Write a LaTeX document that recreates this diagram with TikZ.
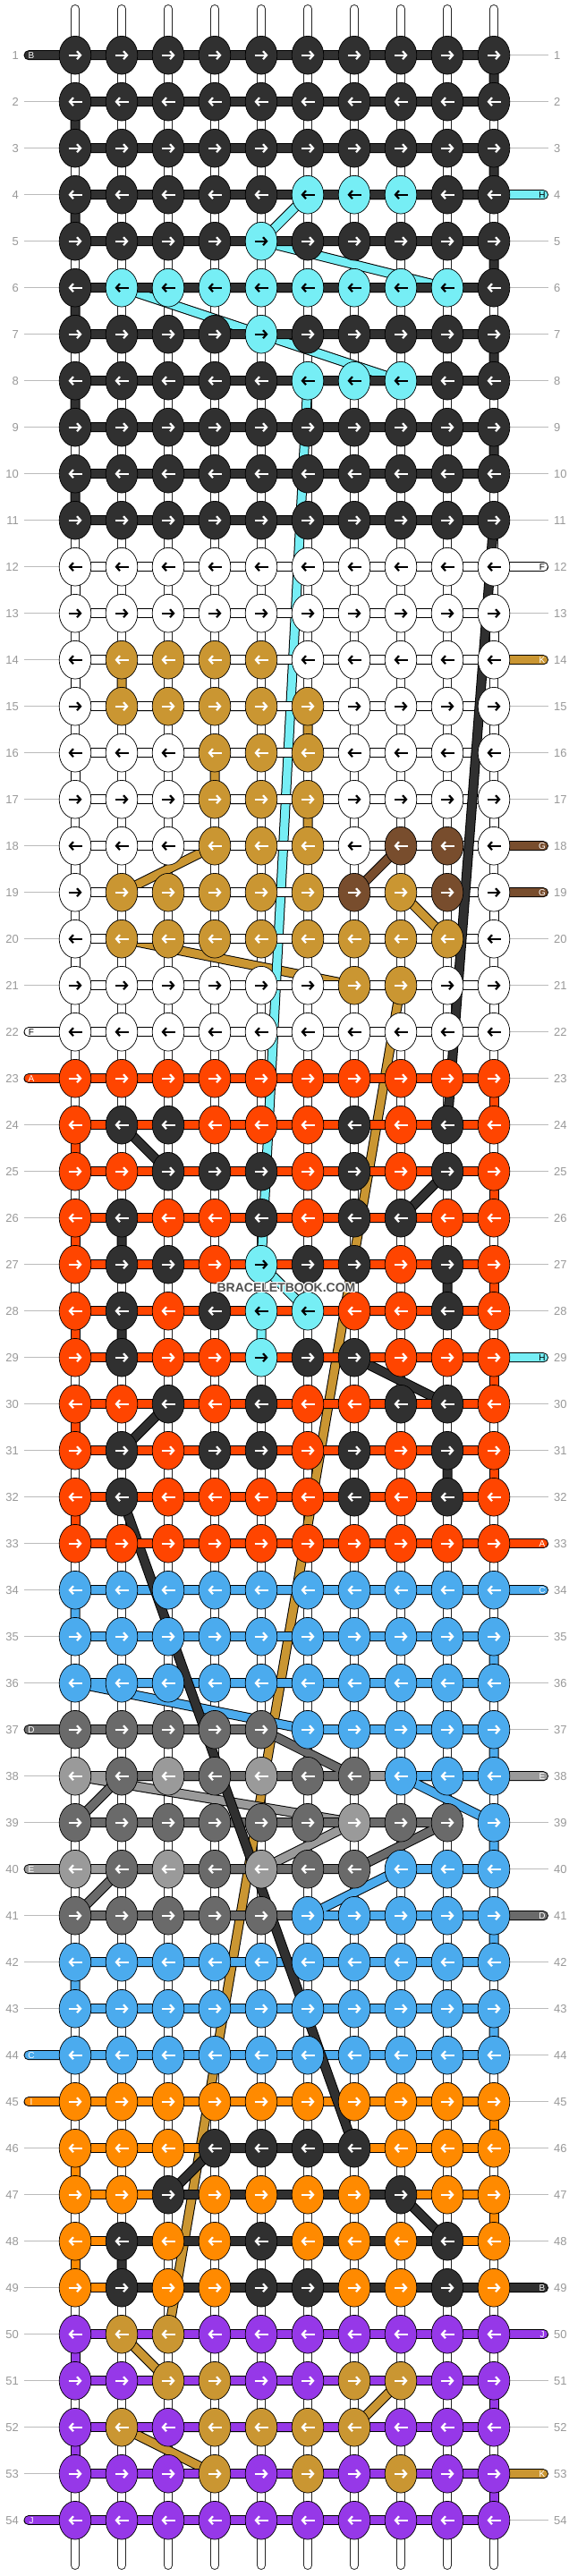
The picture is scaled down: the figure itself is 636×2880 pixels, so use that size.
\documentclass[tikz,border=0pt]{standalone}
\usepackage{fontspec}
\setmainfont{Liberation Sans}
\usetikzlibrary{arrows.meta,shapes.geometric}
\definecolor{cA}{HTML}{FF4500}
\definecolor{cB}{HTML}{303030}
\definecolor{cC}{HTML}{4BABEE}
\definecolor{cD}{HTML}{6A6A6A}
\definecolor{cE}{HTML}{9A9A9A}
\definecolor{cF}{HTML}{FFFFFF}
\definecolor{cG}{HTML}{784D2D}
\definecolor{cH}{HTML}{76EEF5}
\definecolor{cI}{HTML}{FF8A00}
\definecolor{cJ}{HTML}{9638E8}
\definecolor{cK}{HTML}{CA9632}
\definecolor{numgray}{HTML}{999999}
\definecolor{linegray}{HTML}{BBBBBB}
\definecolor{wmgray}{HTML}{505050}
\newcount\kcol
\newcommand\threadpath[2]{%
  \draw[line width=11pt,black,line cap=round,line join=round] #2;
  \draw[line width=9pt,#1,line cap=round,line join=round] #2;}
\newcommand\doknot[3]{%
  \node[knot,fill=c#3] (n#1-#2) at (k#1-#2) {};
  \if#3F\def\acol{black}\else\if#3H\def\acol{black}\else\def\acol{white}\fi\fi
  \ifodd#2\relax
    \draw[arr,draw=\acol] ([xshift=-7.5pt]n#1-#2.center) -- ([xshift=7.5pt]n#1-#2.center);
  \else
    \draw[arr,draw=\acol] ([xshift=7.5pt]n#1-#2.center) -- ([xshift=-7.5pt]n#1-#2.center);
  \fi}
\def\knotrow#1#2{\def\krow{#1}\kcol=0 \knotloop#2\relax}
\def\knotloop#1{\ifx#1\relax\else\advance\kcol by 1 \edef\kc{\the\kcol}\doknot{\kc}{\krow}{#1}\expandafter\knotloop\fi}
\begin{document}
\begin{tikzpicture}[x=1pt,y=1pt,
  knot/.style={ellipse,draw=black,line width=0.7pt,minimum width=35.6pt,minimum height=42.7pt,inner sep=0pt},
  arr/.style={line width=2.2pt,-{Straight Barb[length=4pt,width=9pt]}},
  rownum/.style={text=numgray,font=\fontsize{13}{13}\selectfont,inner sep=0pt},
  stubl/.style={font=\fontsize{10}{10}\selectfont,inner sep=0pt},
  wm/.style={font=\fontsize{14}{14}\selectfont\bfseries,inner sep=0pt}]
\useasboundingbox (0,0) rectangle (636,-2880);
\fill[white] (0,0) rectangle (636,-2880);
\foreach \r in {1,...,54}{
  \pgfmathsetmacro\yy{-61.7-52*(\r-1)}
  \coordinate (L-\r) at (32,\yy);
  \coordinate (R-\r) at (607.5,\yy);
  \foreach \c in {1,...,10}{\coordinate (k\c-\r) at ({84+52*(\c-1)},\yy);}
}
\foreach \c in {1,...,10}{
  \coordinate (top\c) at ({84+52*(\c-1)},-10);
  \coordinate (bot\c) at ({84+52*(\c-1)},-2868);
}
% row label lines
\foreach \r in {1,...,54}{
  \draw[linegray,line width=1pt] ([xshift=-5pt]L-\r) -- (k1-\r);
  \draw[linegray,line width=1pt] (k10-\r) -- ([xshift=5.5pt]R-\r);
}
% base strings
\foreach \c in {1,...,10}{
  \draw[line width=10pt,black!85,line cap=round] (top\c) -- (bot\c);
  \draw[line width=8pt,white,line cap=round] (top\c) -- (bot\c);
}
% threads, bottom to top
\threadpath{cK}{(R-14) -- (k2-14) -- (k2-15) -- (k6-15) -- (k6-16) -- (k4-16) -- (k4-17) -- (k6-17) -- (k6-18) -- (k4-18) -- (k2-19) -- (k8-19) -- (k9-20) -- (k2-20) -- (k7-21) -- (k8-21) -- (k3-50) -- (k2-50) -- (k3-51) -- (k8-51) -- (k7-52) -- (k2-52) -- (k4-53) -- (R-53)}
\threadpath{cJ}{(R-50) -- (k1-50) -- (k1-51) -- (k10-51) -- (k10-52) -- (k1-52) -- (k1-53) -- (k10-53) -- (k10-54) -- (L-54)}
\threadpath{cI}{(L-45) -- (k10-45) -- (k10-46) -- (k1-46) -- (k1-47) -- (k10-47) -- (k10-48) -- (k1-48) -- (k1-49) -- (k10-49)}
\threadpath{cH}{(R-4) -- (k6-4) -- (k5-5) -- (k9-6) -- (k2-6) -- (k5-7) -- (k8-8) -- (k6-8) -- (k5-27) -- (k6-28) -- (k5-28) -- (k5-29) -- (R-29)}
\threadpath{cG}{(R-18) -- (k8-18) -- (k7-19) -- (R-19)}
\threadpath{cF}{(R-12) -- (k1-12) -- (k1-13) -- (k10-13) -- (k10-14) -- (k1-14) -- (k1-15) -- (k10-15) -- (k10-16) -- (k1-16) -- (k1-17) -- (k10-17) -- (k10-18) -- (k1-18) -- (k1-19) -- (k10-19) -- (k10-20) -- (k1-20) -- (k1-21) -- (k10-21) -- (k10-22) -- (L-22)}
\threadpath{cE}{(R-38) -- (k1-38) -- (k7-39) -- (k5-40) -- (L-40)}
\threadpath{cD}{(L-37) -- (k5-37) -- (k7-38) -- (k2-38) -- (k1-39) -- (k9-39) -- (k7-40) -- (k2-40) -- (k1-41) -- (R-41)}
\threadpath{cC}{(R-34) -- (k1-34) -- (k1-35) -- (k10-35) -- (k10-36) -- (k1-36) -- (k6-37) -- (k10-37) -- (k10-38) -- (k8-38) -- (k10-39) -- (k10-40) -- (k8-40) -- (k6-41) -- (k10-41) -- (k10-42) -- (k1-42) -- (k1-43) -- (k10-43) -- (k10-44) -- (L-44)}
\threadpath{cB}{(L-1) -- (k10-1) -- (k10-2) -- (k1-2) -- (k1-3) -- (k10-3) -- (k10-4) -- (k1-4) -- (k1-5) -- (k10-5) -- (k10-6) -- (k1-6) -- (k1-7) -- (k10-7) -- (k10-8) -- (k1-8) -- (k1-9) -- (k10-9) -- (k10-10) -- (k1-10) -- (k1-11) -- (k10-11) -- (k9-24) -- (k2-24) -- (k3-25) -- (k9-25) -- (k8-26) -- (k2-26) -- (k2-27) -- (k9-27) -- (k9-28) -- (k2-28) -- (k2-29) -- (k7-29) -- (k9-30) -- (k3-30) -- (k2-31) -- (k9-31) -- (k9-32) -- (k2-32) -- (k7-46) -- (k4-46) -- (k3-47) -- (k8-47) -- (k9-48) -- (k2-48) -- (k2-49) -- (R-49)}
\threadpath{cA}{(L-23) -- (k10-23) -- (k10-24) -- (k1-24) -- (k1-25) -- (k10-25) -- (k10-26) -- (k1-26) -- (k1-27) -- (k10-27) -- (k10-28) -- (k1-28) -- (k1-29) -- (k10-29) -- (k10-30) -- (k1-30) -- (k1-31) -- (k10-31) -- (k10-32) -- (k1-32) -- (k1-33) -- (R-33)}
% knots
\knotrow{1}{BBBBBBBBBB}
\knotrow{2}{BBBBBBBBBB}
\knotrow{3}{BBBBBBBBBB}
\knotrow{4}{BBBBBHHHBB}
\knotrow{5}{BBBBHBBBBB}
\knotrow{6}{BHHHHHHHHB}
\knotrow{7}{BBBBHBBBBB}
\knotrow{8}{BBBBBHHHBB}
\knotrow{9}{BBBBBBBBBB}
\knotrow{10}{BBBBBBBBBB}
\knotrow{11}{BBBBBBBBBB}
\knotrow{12}{FFFFFFFFFF}
\knotrow{13}{FFFFFFFFFF}
\knotrow{14}{FKKKKFFFFF}
\knotrow{15}{FKKKKKFFFF}
\knotrow{16}{FFFKKKFFFF}
\knotrow{17}{FFFKKKFFFF}
\knotrow{18}{FFFKKKFGGF}
\knotrow{19}{FKKKKKGKGF}
\knotrow{20}{FKKKKKKKKF}
\knotrow{21}{FFFFFFKKFF}
\knotrow{22}{FFFFFFFFFF}
\knotrow{23}{AAAAAAAAAA}
\knotrow{24}{ABBAAABABA}
\knotrow{25}{AABBBABABA}
\knotrow{26}{ABAABABBAA}
\knotrow{27}{ABBAHBBABA}
\knotrow{28}{ABABHHAABA}
\knotrow{29}{ABAAHBBAAA}
\knotrow{30}{AABABAABBA}
\knotrow{31}{ABABBABABA}
\knotrow{32}{ABAAAABABA}
\knotrow{33}{AAAAAAAAAA}
\knotrow{34}{CCCCCCCCCC}
\knotrow{35}{CCCCCCCCCC}
\knotrow{36}{CCCCCCCCCC}
\knotrow{37}{DDDDDCCCCC}
\knotrow{38}{EDEDEDDCCC}
\knotrow{39}{DDDDDDEDDC}
\knotrow{40}{EDEDEDDCCC}
\knotrow{41}{DDDDDCCCCC}
\knotrow{42}{CCCCCCCCCC}
\knotrow{43}{CCCCCCCCCC}
\knotrow{44}{CCCCCCCCCC}
\knotrow{45}{IIIIIIIIII}
\knotrow{46}{IIIBBBBIII}
\knotrow{47}{IIBIIIIBII}
\knotrow{48}{IBIIBIIIBI}
\knotrow{49}{IBIIBBIIBI}
\knotrow{50}{JKKJJJJJJJ}
\knotrow{51}{JJKKJJKKJJ}
\knotrow{52}{JKJKKKKJJJ}
\knotrow{53}{JJJKJKJKJJ}
\knotrow{54}{JJJJJJJJJJ}
% stub letters
\node[stubl,text=white] (sL1) at ([xshift=3pt]L-1) {B};
\node[stubl,text=black] (sL22) at ([xshift=3pt]L-22) {F};
\node[stubl,text=white] (sL23) at ([xshift=3pt]L-23) {A};
\node[stubl,text=white] (sL37) at ([xshift=3pt]L-37) {D};
\node[stubl,text=white] (sL40) at ([xshift=3pt]L-40) {E};
\node[stubl,text=white] (sL44) at ([xshift=3pt]L-44) {C};
\node[stubl,text=white] (sL45) at ([xshift=3pt]L-45) {I};
\node[stubl,text=white] (sL54) at ([xshift=3pt]L-54) {J};
\node[stubl,text=black] (sR4) at ([xshift=-1.5pt]R-4) {H};
\node[stubl,text=black] (sR12) at ([xshift=-1.5pt]R-12) {F};
\node[stubl,text=white] (sR14) at ([xshift=-1.5pt]R-14) {K};
\node[stubl,text=white] (sR18) at ([xshift=-1.5pt]R-18) {G};
\node[stubl,text=white] (sR19) at ([xshift=-1.5pt]R-19) {G};
\node[stubl,text=black] (sR29) at ([xshift=-1.5pt]R-29) {H};
\node[stubl,text=white] (sR33) at ([xshift=-1.5pt]R-33) {A};
\node[stubl,text=white] (sR34) at ([xshift=-1.5pt]R-34) {C};
\node[stubl,text=white] (sR38) at ([xshift=-1.5pt]R-38) {E};
\node[stubl,text=white] (sR41) at ([xshift=-1.5pt]R-41) {D};
\node[stubl,text=white] (sR49) at ([xshift=-1.5pt]R-49) {B};
\node[stubl,text=white] (sR50) at ([xshift=-1.5pt]R-50) {J};
\node[stubl,text=white] (sR53) at ([xshift=-1.5pt]R-53) {K};
% row numbers
\foreach \r in {1,...,54}{
  \node[rownum,anchor=east] (numL\r) at ([xshift=-11pt]L-\r) {\r};
  \node[rownum,anchor=west] (numR\r) at ([xshift=11.5pt]R-\r) {\r};
}
% watermark
\coordinate (wmc) at (320,-1440);
\foreach \dx/\dy in {1/0,-1/0,0/1,0/-1,1/1,-1/1,1/-1,-1/-1}{
  \node[wm,text=white] at ([shift={(\dx,\dy)}]wmc) {BRACELETBOOK.COM};
}
\node[wm,text=wmgray] (wmark) at (wmc) {BRACELETBOOK.COM};
\end{tikzpicture}
\end{document}
